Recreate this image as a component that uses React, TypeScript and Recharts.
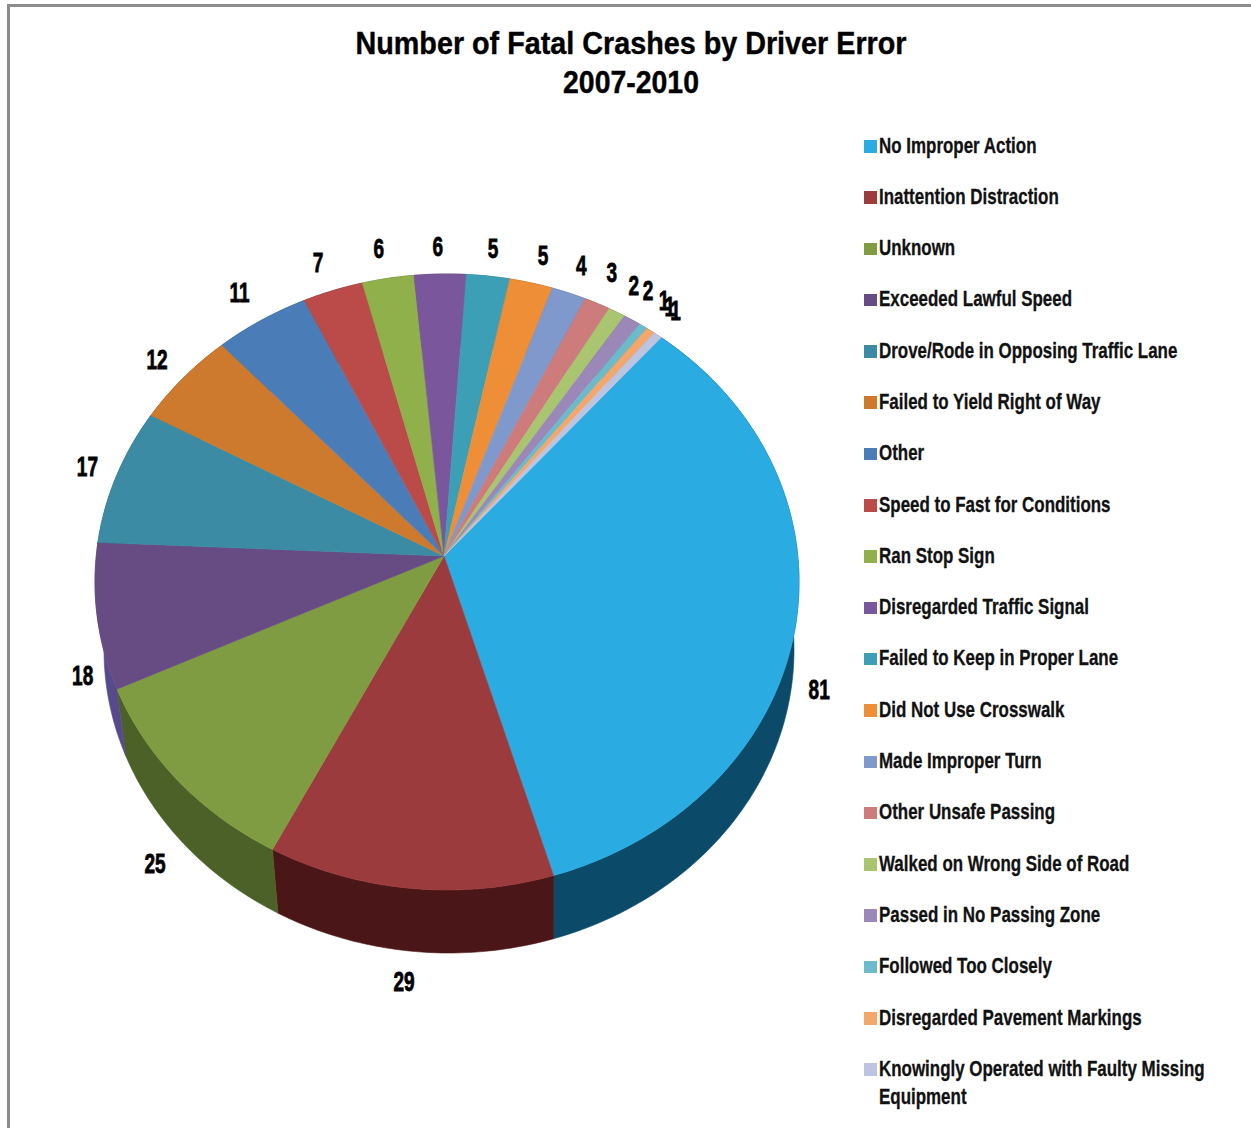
import React from "react";
import { PieChart, Pie, Legend } from "recharts";

// Driver errors, largest first, clockwise around the pie.
const errorNames = [
  "No Improper Action",
  "Inattention Distraction",
  "Unknown",
  "Exceeded Lawful Speed",
  "Drove/Rode in Opposing Traffic Lane",
  "Failed to Yield Right of Way",
  "Other",
  "Speed to Fast for Conditions",
  "Ran Stop Sign",
  "Disregarded Traffic Signal",
  "Failed to Keep in Proper Lane",
  "Did Not Use Crosswalk",
  "Made Improper Turn",
  "Other Unsafe Passing",
  "Walked on Wrong Side of Road",
  "Passed in No Passing Zone",
  "Followed Too Closely",
  "Disregarded Pavement Markings",
  "Knowingly Operated with Faulty Missing Equipment",
];
const crashCounts = [81, 29, 25, 18, 17, 12, 11, 7, 6, 6, 5, 5, 4, 3, 2, 2, 1, 1, 1];
const faceColors = [
  "#2AACE3", "#9C3B3D", "#7F9C42", "#674C84", "#3A8BA3", "#CD7A2E", "#4A7DB8",
  "#BB4B49", "#8FB04A", "#7A569C", "#3C9FB5", "#EE8E36", "#7F99CC", "#CD7B7B",
  "#A9C56F", "#9B87B8", "#6CBBCB", "#F5A66B", "#BDC4E0",
];
const wallColors = [
  "#0B4A68", "#4A1618", "#4C6128", "#574A8C", "#245766", "#7D4A1C", "#2D4C70",
  "#712D2C", "#566A2D", "#4A345E", "#25606E", "#8F5620", "#4D5C7B", "#7B4A4A",
  "#667743", "#5D516F", "#41717A", "#936440", "#727687",
];
// Hand placement of the count labels around the rim, as [dx, dy].
const labelNudges = [
  [-1, 61], [-3, -3], [-4, -3], [10, 56], [-6, 0], [-8, 0], [-9, -5], [-7, -2], [-5, -3], [-2, 0],
  [2, -1], [6, -1], [4, -2], [4, -6], [5, -3], [3, -6], [7, -3], [5, -2], [3, -3],
];

const faceRows = errorNames.map((name, i) => ({ name, value: crashCounts[i], fill: faceColors[i] }));
const wallRows = errorNames.map((name, i) => ({ name, value: crashCounts[i], fill: wallColors[i] }));

// Perspective of the tilted disc: outline of the top face and of the lower rim.
const APEX_X = 444;
const APEX_Y = 556;
const FACE_CX = 447;
const FACE_RX = 352;
const FACE_RY = 308;
const FACE_CY = 582;
const RIM_CX = 449;
const RIM_RX = 345;
const RIM_RY = 303;
const RIM_CY = 650;
const WARP = 0.035;

// Points on the rim crowd towards the far side of the disc: a Moebius map of the unit circle.
function project(clockwiseDeg: number): [number, number] {
  const t = (clockwiseDeg * Math.PI) / 180;
  const zx = Math.sin(t);
  const zy = -Math.cos(t);
  const nx = zx;
  const ny = zy - WARP;
  const dx = 1 - WARP * zy;
  const dy = WARP * zx;
  const d = dx * dx + dy * dy;
  return [(nx * dx + ny * dy) / d, (ny * dx - nx * dy) / d];
}

function arcSamples(startAngle: number, endAngle: number): [number, number][] {
  const from = 90 - startAngle;
  const to = 90 - endAngle;
  const steps = Math.max(2, Math.ceil(to - from));
  const out: [number, number][] = [];
  for (let i = 0; i <= steps; i++) out.push(project(from + ((to - from) * i) / steps));
  return out;
}

function FaceSlice(props: any) {
  const { startAngle, endAngle, fill } = props;
  const pts = arcSamples(startAngle, endAngle).map(
    ([x, y]) => `${FACE_CX + FACE_RX * x},${FACE_CY + FACE_RY * y}`
  );
  return <path d={`M${APEX_X},${APEX_Y}L${pts.join("L")}Z`} fill={fill} stroke={fill} strokeWidth={0.6} />;
}

function WallSlice(props: any) {
  const { startAngle, endAngle, fill } = props;
  const samples = arcSamples(startAngle, endAngle);
  const upper = samples.map(([x, y]) => `${FACE_CX + FACE_RX * x},${FACE_CY + FACE_RY * y}`);
  const lower = samples
    .slice()
    .reverse()
    .map(([x, y]) => `${RIM_CX + RIM_RX * x},${RIM_CY + RIM_RY * y}`);
  return <path d={`M${upper.join("L")}L${lower.join("L")}Z`} fill={fill} stroke={fill} strokeWidth={0.6} />;
}

function CountLabel(props: any) {
  const { midAngle, value, index } = props;
  const [x, y] = project(90 - midAngle);
  const lift = y > 0.2 ? RIM_CY - FACE_CY : 0;
  const [nudgeX, nudgeY] = labelNudges[index];
  const px = FACE_CX + FACE_RX * x * 1.07 + nudgeX;
  const py = FACE_CY + FACE_RY * y * 1.09 + lift + nudgeY;
  return (
    <text
      transform={`translate(${px},${py}) scale(0.68,1)`}
      textAnchor="middle"
      dominantBaseline="central"
      fontFamily="'Liberation Sans', Arial, sans-serif"
      fontWeight="bold"
      fontSize={28}
      fill="#000"
      stroke="#000"
      strokeWidth={0.8}
    >
      {value}
    </text>
  );
}

function ErrorLegend({ payload }: any) {
  const rows = (payload || []).filter((entry: any) => faceColors.includes(entry.color));
  return (
    <div style={{ width: 380 }}>
      {rows.map((entry: any) => (
        <div key={entry.value} style={{ position: "relative", height: 51.3 }}>
          <span
            style={{
              position: "absolute",
              left: 0,
              top: 9,
              width: 12.5,
              height: 12.5,
              background: entry.color,
            }}
          />
          <span
            style={{
              position: "absolute",
              left: 15,
              top: 0.5,
              width: 425,
              display: "block",
              transform: "scaleX(0.77)",
              transformOrigin: "0 0",
              fontFamily: "'Liberation Sans', Arial, sans-serif",
              fontWeight: "bold",
              fontSize: 22,
              lineHeight: "28px",
              color: "#111",
              WebkitTextStroke: "0.3px #111",
            }}
          >
            {entry.value}
          </span>
        </div>
      ))}
    </div>
  );
}

export default function App() {
  return (
    <div style={{ position: "absolute", left: 0, top: 0, width: 1251, height: 1128, overflow: "hidden", background: "#fff" }}>
      <div
        style={{
          position: "absolute",
          left: 7,
          top: 4,
          width: 1300,
          height: 1200,
          borderLeft: "3px solid #8C8C8C",
          borderTop: "3px solid #8C8C8C",
        }}
      />
      <div style={{ position: "absolute", left: 0, top: 0 }}>
        <PieChart width={1251} height={1128} margin={{ top: 0, right: 0, bottom: 0, left: 0 }}>
          <text
            x={631}
            y={54}
            textAnchor="middle"
            textLength={551}
            lengthAdjust="spacingAndGlyphs"
            fontFamily="'Liberation Sans', Arial, sans-serif"
            fontWeight="bold"
            fontSize={32}
            fill="#000"
            stroke="#000"
            strokeWidth={0.4}
          >
            Number of Fatal Crashes by Driver Error
          </text>
          <text
            x={631}
            y={93}
            textAnchor="middle"
            textLength={136}
            lengthAdjust="spacingAndGlyphs"
            fontFamily="'Liberation Sans', Arial, sans-serif"
            fontWeight="bold"
            fontSize={32}
            fill="#000"
            stroke="#000"
            strokeWidth={0.4}
          >
            2007-2010
          </text>
          <Pie
            data={wallRows}
            dataKey="value"
            nameKey="name"
            cx={APEX_X}
            cy={APEX_Y}
            outerRadius={FACE_RX}
            startAngle={50}
            endAngle={-310}
            legendType="none"
            shape={WallSlice}
            stroke="none"
            isAnimationActive={false}
          />
          <Pie
            data={faceRows}
            dataKey="value"
            nameKey="name"
            cx={APEX_X}
            cy={APEX_Y}
            outerRadius={FACE_RX}
            startAngle={50}
            endAngle={-310}
            shape={FaceSlice}
            stroke="none"
            label={CountLabel}
            labelLine={false}
            isAnimationActive={false}
          />
          <Legend
            layout="vertical"
            align="left"
            verticalAlign="top"
            itemSorter={null}
            content={ErrorLegend}
            wrapperStyle={{ left: 864, top: 131, width: 380 }}
          />
        </PieChart>
      </div>
    </div>
  );
}
